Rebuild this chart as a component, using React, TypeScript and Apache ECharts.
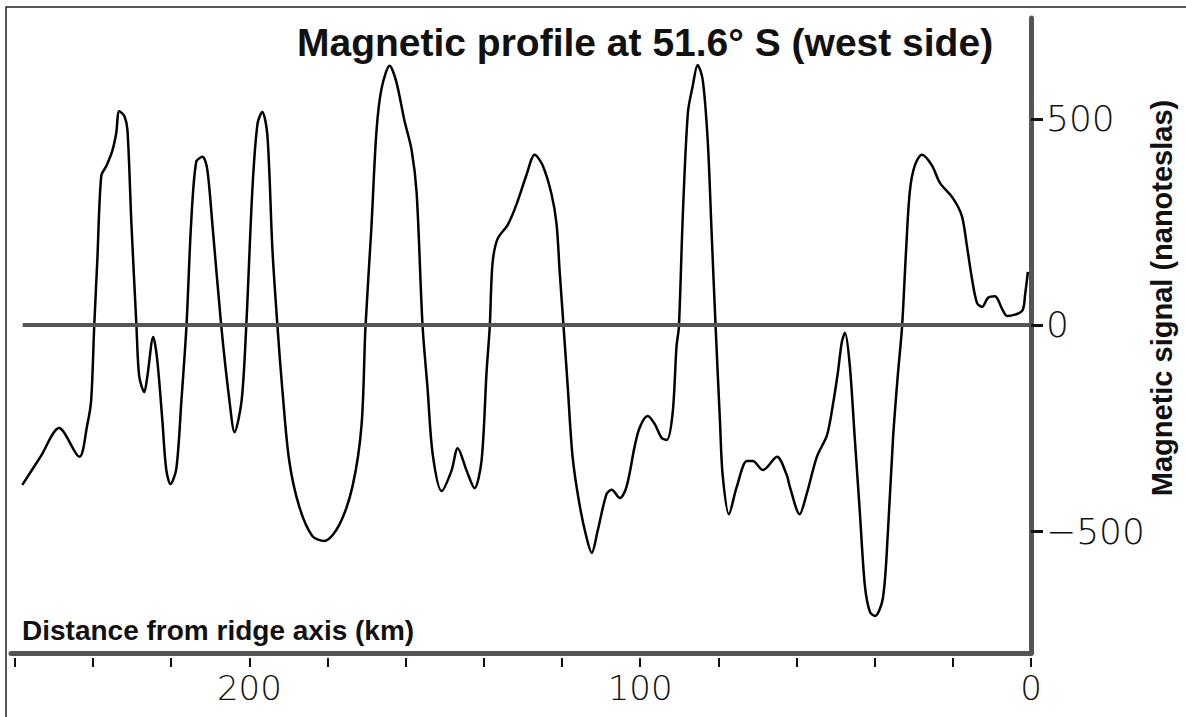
import React, { useEffect, useRef } from "react";
import * as echarts from "echarts";

// Distance from ridge axis (km) and magnetic signal (nT), read from the profile
const distanceKm = [
  258.1, 253.4, 248.7, 243.5, 241.5, 240.5, 239.7, 238.9, 237.9, 236.6, 235.1, 234.1, 233.3, 232.0, 231.2, 230.2,
  228.9, 228.2, 226.9, 226.1, 224.6, 223.6, 222.3, 221.3, 220.2, 218.7, 217.4, 216.1, 214.9, 213.6, 212.0,
  210.8, 209.5, 207.2, 205.1, 203.8, 202.0, 200.8, 199.2, 197.9, 196.7, 195.4, 194.1, 192.8, 191.5, 189.8,
  187.2, 183.9, 180.8, 177.0, 173.6, 171.3, 170.3, 168.8, 167.5, 166.2, 164.1, 162.4, 160.3, 158.5, 157.2,
  155.7, 154.4, 153.1, 150.8, 148.3, 146.7, 144.4, 142.4, 140.6, 139.3, 138.5, 137.8, 136.5, 133.9, 131.6,
  129.1, 127.0, 125.0, 122.7, 121.4, 120.6, 119.6, 118.6, 117.3, 115.5, 113.7, 112.4, 110.9, 108.6, 107.3,
  105.2, 103.5, 101.4, 100.1, 98.1, 96.3, 94.5, 93.2, 91.7, 90.7, 90.1, 89.1, 87.8, 86.6, 85.3,
  84.0, 82.7, 81.7, 80.7, 79.6, 78.9, 77.3, 75.3, 72.7, 71.2, 68.6, 65.0, 62.5, 61.7, 59.2,
  57.4, 54.8, 52.2, 50.7, 49.4, 48.4, 47.6, 46.4, 45.1, 43.8, 42.5, 41.2, 39.9, 37.9, 36.6,
  35.3, 34.1, 33.0, 32.0, 31.0, 29.7, 27.9, 25.4, 23.3, 20.0, 17.7, 16.4, 15.1, 13.8, 12.5,
  11.0, 9.2, 7.4, 6.1, 2.3, 1.5, 0.8,
];
const signalNt = [
  -388, -319, -250, -320, -243, -184, -2, 160, 362, 386, 422, 464, 519, 507, 473, 248,
  -2, -124, -163, -124, -29, -83, -228, -349, -386, -349, -184, -2, 248, 396, 408,
  379, 248, -2, -184, -260, -184, -2, 335, 490, 517, 461, 182, -5, -165, -330,
  -442, -512, -524, -485, -391, -243, -5, 233, 468, 573, 629, 590, 495, 425, 320,
  0, -155, -313, -403, -354, -299, -354, -396, -330, -112, -5, 148, 209, 243, 294,
  364, 413, 388, 318, 245, 129, -5, -141, -320, -437, -517, -553, -500, -410, -400,
  -420, -393, -294, -248, -221, -240, -274, -279, -214, -51, -5, 265, 515, 578, 631,
  595, 444, 218, -5, -231, -364, -459, -393, -330, -330, -352, -320, -364, -393, -459,
  -410, -320, -267, -194, -114, -41, -19, -95, -274, -454, -633, -697, -706, -663, -500,
  -274, -124, -5, 175, 325, 388, 413, 388, 345, 308, 265, 192, 112, 53, 44,
  66, 70, 39, 22, 34, 75, 129,
];

const xTickValues = [0, 20, 40, 60, 80, 100, 120, 140, 160, 180, 200, 220, 240, 260];
const xLabelValues = [0, 100, 200];
const yTickValues = [-500, 0, 500];
const zeroLineKm = [258, 0];

const titleText = "Magnetic profile at 51.6° S (west side)";
const xAxisName = "Distance from ridge axis (km)";
const yAxisName = "Magnetic signal (nanoteslas)";

export default function App() {
  const ref = useRef<HTMLDivElement>(null);

  useEffect(() => {
    if (!ref.current) return;
    const chart = echarts.init(ref.current, undefined, { renderer: "svg" });
    const axisGray = "#555555";
    const numFont = {
      fontFamily: "DejaVu Sans",
      fontWeight: 200 as any,
      color: "#111",
    };
    chart.setOption({
      animation: false,
      backgroundColor: "#ffffff",
      title: {
        text: titleText,
        left: 292,
        top: 18,
        textStyle: {
          fontFamily: "Liberation Sans",
          fontWeight: "bold",
          fontSize: 39,
          color: "#111",
        },
      },
      grid: { left: 11, right: 155, top: 18, bottom: 64, containLabel: false },
      xAxis: [
        {
          type: "value",
          inverse: true,
          min: 0,
          max: 261,
          position: "bottom",
          axisLine: { show: true, onZero: false, lineStyle: { color: axisGray, width: 5 } },
          axisTick: { show: false },
          axisLabel: { show: false },
          splitLine: { show: false },
        },
        {
          type: "value",
          inverse: true,
          min: 0,
          max: 261,
          position: "bottom",
          offset: 5,
          axisLine: { show: false, onZero: false },
          axisTick: {
            show: true,
            customValues: xTickValues,
            length: 9,
            lineStyle: { color: "#111", width: 2 },
          },
          axisLabel: {
            show: true,
            customValues: xLabelValues,
            margin: 13,
            fontSize: 34,
            ...numFont,
          },
          splitLine: { show: false },
        },
      ],
      yAxis: {
        type: "value",
        position: "right",
        min: -796,
        max: 745,
        axisLine: { show: true, onZero: false, lineStyle: { color: axisGray, width: 5 } },
        axisTick: {
          show: true,
          customValues: yTickValues,
          length: 12,
          lineStyle: { color: "#111", width: 3 },
        },
        axisLabel: {
          show: true,
          customValues: yTickValues,
          margin: 15,
          fontSize: 36,
          formatter: (v: number) => (v < 0 ? "\u2212" + Math.abs(v) : String(v)),
          ...numFont,
        },
        splitLine: { show: false },
      },
      series: [
        {
          type: "line",
          xAxisIndex: 0,
          data: distanceKm.map((d, i) => [d, signalNt[i]]),
          showSymbol: false,
          smooth: 0.3,
          lineStyle: { color: "#000", width: 2.5 },
          z: 3,
          markLine: {
            silent: true,
            symbol: ["none", "none"],
            label: { show: false },
            lineStyle: { color: axisGray, width: 4, type: "solid" },
            data: [[{ coord: [zeroLineKm[0], 0] }, { coord: [zeroLineKm[1], 0] }]],
          },
        },
      ],
      graphic: [
        {
          type: "rect",
          silent: true,
          shape: { x: 6, y: 7, width: 1400, height: 900 },
          style: { fill: "none", stroke: "#222", lineWidth: 1.5 },
        },
        {
          type: "text",
          x: 22,
          y: 630,
          style: {
            text: xAxisName,
            font: 'bold 28px "Liberation Sans"',
            fill: "#111",
            align: "left",
            verticalAlign: "middle",
          },
        },
        {
          type: "text",
          x: 1162,
          y: 298,
          rotation: Math.PI / 2,
          style: {
            text: yAxisName,
            font: 'bold 29px "Liberation Sans"',
            fill: "#111",
            align: "center",
            verticalAlign: "middle",
          },
        },
      ],
    });
    return () => chart.dispose();
  }, []);

  return (
    <div
      ref={ref}
      style={{ position: "fixed", left: 0, top: 0, width: 1186, height: 717 }}
    />
  );
}
